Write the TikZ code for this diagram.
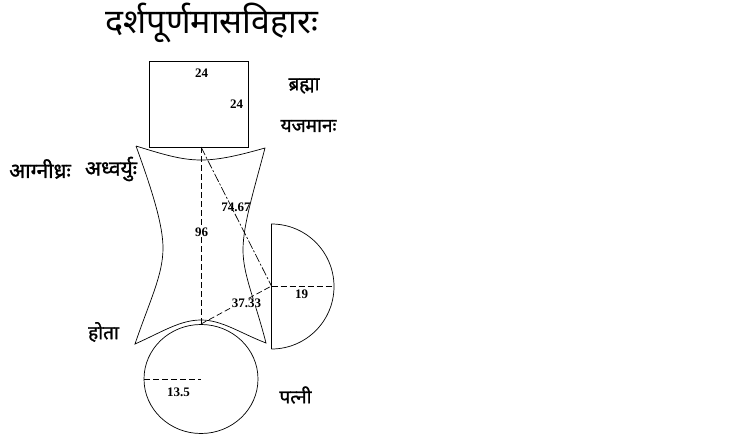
\documentclass[tikz,border=0pt]{standalone}
\usepackage{fontspec}
\setmainfont{Liberation Serif}
\newfontfamily\devfont[Script=Devanagari]{Noto Sans}
\newfontfamily\devbold[Script=Devanagari,FakeBold=1.2]{Noto Sans}
\tikzset{
  outline/.style={line width=0.7pt},
  dimline/.style={line width=0.7pt,dash pattern=on 6pt off 3pt},
  numlabel/.style={inner sep=0pt,font=\fontsize{13}{14}\selectfont\bfseries},
  seatlabel/.style={inner sep=0pt,font=\fontsize{19}{20}\selectfont\devbold},
  widelabel/.style={inner sep=0pt,font=\fontsize{21}{22}\selectfont\devbold}
}
\begin{document}
\begin{tikzpicture}[x=1pt,y=-1pt]
\useasboundingbox (0,0) rectangle (731,439);
\coordinate (sqa) at (149.5,61);
\coordinate (sqb) at (248,147);
\coordinate (sqmid) at (201,147);
\coordinate (tl) at (136,146);
\coordinate (tr) at (265,148);
\coordinate (bl) at (135,344);
\coordinate (br) at (266,343);
\coordinate (topmid) at (201,160);
\coordinate (botmid) at (201,320);
\coordinate (waistl) at (163,248);
\coordinate (waistr) at (243,250);
\coordinate (circtop) at (201,324);
\coordinate (circcen) at (201,379);
\coordinate (circleft) at (144,379);
\coordinate (semia) at (271.5,224);
\coordinate (semib) at (271.5,349);
\coordinate (semicen) at (271.5,286);
\coordinate (semiright) at (334,286);
% square
\draw[outline] (sqa) rectangle (sqb);
% vedi
\draw[outline] (tl) .. controls (165,155) and (182,160) .. (topmid)
  .. controls (220,160) and (240,155) .. (tr)
  .. controls (254,190) and (243,225) .. (waistr)
  .. controls (243,275) and (255,300) .. (br)
  .. controls (240,333) and (222,320) .. (botmid)
  .. controls (180,320) and (162,332) .. (bl)
  .. controls (150,300) and (163,275) .. (waistl)
  .. controls (163,225) and (152,190) .. (tl);
% circle
\draw[outline] (circcen) ellipse [x radius=57,y radius=54.5];
% half circle
\draw[outline] (semib) -- (semia) arc[start angle=-90,end angle=90,radius=62.5];
% dimensions
\draw[dimline] (sqmid) -- (circtop);
\draw[dimline] (circtop) -- (semicen);
\draw[dimline] (semicen) -- (semiright);
\draw[dimline,dash pattern=on 9pt off 2pt on 2pt off 2pt] (sqmid) -- (semicen);
\draw[dimline] (circleft) -- (circcen);
% numbers
\node[numlabel] (n1) at (201.5,73) {24};
\node[numlabel] (n2) at (236.5,104) {24};
\node[numlabel] (n3) at (236,207) {74.67};
\node[numlabel,fill=white] (n4) at (201.5,232) {96};
\node[numlabel,fill=white] (n5) at (246.5,303) {37.33};
\node[numlabel] (n6) at (301.5,294.5) {19};
\node[numlabel] (n7) at (178.5,392) {13.5};
% names
\node[inner sep=0pt,font=\fontsize{34}{36}\selectfont\devfont] (title) at (212,23) {दर्शपूर्णमासविहारः};
\node[seatlabel] (brahma) at (304,86) {ब्रह्मा};
\node[seatlabel] (yajamana) at (308.5,126) {यजमानः};
\node[widelabel] (agnidhra) at (40,169) {आग्नीध्रः};
\node[widelabel] (adhvaryu) at (111,169) {अध्वर्युः};
\node[seatlabel] (hota) at (103.5,332) {होता};
\node[seatlabel] (patni) at (295.5,395) {पत्नी};
\end{tikzpicture}
\end{document}
